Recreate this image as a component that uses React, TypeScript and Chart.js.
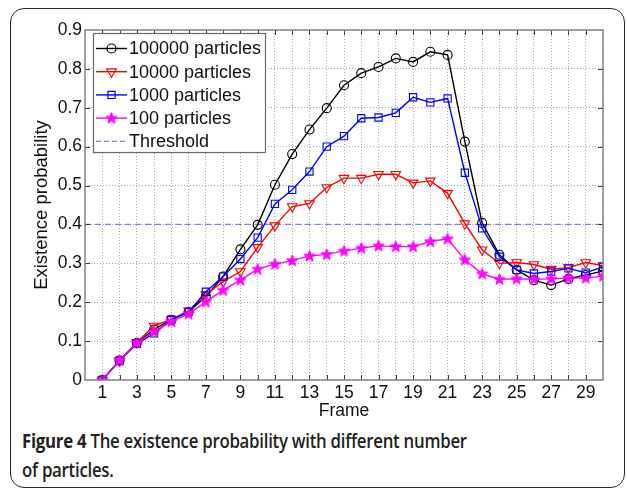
import React, { useEffect, useRef } from 'react';
import { Chart, registerables } from 'chart.js';

Chart.register(...registerables);

const frames = [1, 2, 3, 4, 5, 6, 7, 8, 9, 10, 11, 12, 13, 14, 15, 16, 17, 18, 19, 20, 21, 22, 23, 24, 25, 26, 27, 28, 29, 30];
const p100000 = [0, 0.05, 0.095, 0.13, 0.155, 0.175, 0.215, 0.266, 0.336, 0.399, 0.502, 0.581, 0.644, 0.699, 0.758, 0.789, 0.805, 0.827, 0.818, 0.844, 0.836, 0.613, 0.404, 0.322, 0.283, 0.257, 0.244, 0.26, 0.27, 0.28];
const p10000 = [0, 0.05, 0.097, 0.139, 0.156, 0.178, 0.22, 0.253, 0.279, 0.341, 0.397, 0.446, 0.454, 0.495, 0.519, 0.519, 0.529, 0.529, 0.507, 0.512, 0.48, 0.402, 0.335, 0.3, 0.302, 0.297, 0.285, 0.289, 0.302, 0.294];
const p1000 = [0, 0.05, 0.093, 0.12, 0.155, 0.175, 0.227, 0.266, 0.311, 0.366, 0.453, 0.489, 0.536, 0.6, 0.627, 0.673, 0.675, 0.687, 0.727, 0.714, 0.724, 0.533, 0.39, 0.317, 0.283, 0.274, 0.279, 0.287, 0.276, 0.291];
const p100 = [0, 0.05, 0.095, 0.124, 0.15, 0.17, 0.201, 0.231, 0.257, 0.285, 0.298, 0.307, 0.319, 0.323, 0.332, 0.339, 0.345, 0.343, 0.343, 0.356, 0.363, 0.309, 0.273, 0.259, 0.26, 0.259, 0.26, 0.262, 0.262, 0.267];
const thresholdValue = 0.4;
const xRange = [0, 30];
const yRange = [0, 0.9];
const xTickLabels = [1, 3, 5, 7, 9, 11, 13, 15, 17, 19, 21, 23, 25, 27, 29];
const seriesNames = ['100000 particles', '10000 particles', '1000 particles', '100 particles', 'Threshold'];
const xTitle = 'Frame';
const yTitle = 'Existence probability';

const FONT = '"Liberation Sans", Arial, sans-serif';
const colors = ['#000000', '#ff0000', '#0000ff', '#ff00ff', '#8080e6'];

function makeStar(color: string) {
  const c = document.createElement('canvas');
  c.width = 13;
  c.height = 13;
  const ctx = c.getContext('2d')!;
  const cx = 6.5, cy = 6.8, ro = 6, ri = 2.4;
  ctx.beginPath();
  for (let i = 0; i < 10; i++) {
    const r = i % 2 === 0 ? ro : ri;
    const a = -Math.PI / 2 + (i * Math.PI) / 5;
    const x = cx + r * Math.cos(a);
    const y = cy + r * Math.sin(a);
    if (i === 0) ctx.moveTo(x, y); else ctx.lineTo(x, y);
  }
  ctx.closePath();
  ctx.fillStyle = color;
  ctx.fill();
  ctx.strokeStyle = color;
  ctx.lineWidth = 1;
  ctx.stroke();
  return c;
}

function drawMarker(ctx: CanvasRenderingContext2D, kind: string, x: number, y: number, color: string, star: HTMLCanvasElement) {
  ctx.save();
  ctx.strokeStyle = color;
  ctx.lineWidth = 1.2;
  ctx.beginPath();
  if (kind === 'circle') {
    ctx.arc(x, y, 4.5, 0, Math.PI * 2);
    ctx.stroke();
  } else if (kind === 'tri') {
    const r = 5.5;
    ctx.moveTo(x, y + r);
    ctx.lineTo(x - r * Math.sin(Math.PI / 3), y - r / 2);
    ctx.lineTo(x + r * Math.sin(Math.PI / 3), y - r / 2);
    ctx.closePath();
    ctx.stroke();
  } else if (kind === 'rect') {
    const s = 3.6;
    ctx.rect(x - s, y - s, 2 * s, 2 * s);
    ctx.stroke();
  } else if (kind === 'star') {
    ctx.drawImage(star, x - star.width / 2, y - star.height / 2);
  }
  ctx.restore();
}

export default function App() {
  const ref = useRef<HTMLCanvasElement | null>(null);

  useEffect(() => {
    if (!ref.current) return;
    const star = makeStar(colors[3]);
    const mk = (vals: number[]) => frames.map((f, i) => ({ x: f, y: vals[i] }));

    const framePlugin = {
      id: 'framePlugin',
      afterDraw(chart: any) {
        const { ctx, chartArea } = chart;
        const xs = chart.scales.x;
        const ys = chart.scales.y;
        const { left, right, top, bottom } = chartArea;
        ctx.save();
        ctx.strokeStyle = '#3a3a3a';
        ctx.lineWidth = 1;
        ctx.beginPath();
        for (let v = xRange[0] + 1; v < xRange[1]; v++) {
          const px = Math.round(xs.getPixelForValue(v)) + 0.5;
          ctx.moveTo(px, bottom);
          ctx.lineTo(px, bottom - 5);
          ctx.moveTo(px, top);
          ctx.lineTo(px, top + 5);
        }
        for (let k = 1; k < 9; k++) {
          const py = Math.round(ys.getPixelForValue(k / 10)) + 0.5;
          ctx.moveTo(left, py);
          ctx.lineTo(left + 5, py);
          ctx.moveTo(right, py);
          ctx.lineTo(right - 5, py);
        }
        ctx.stroke();
        ctx.strokeStyle = '#858585';
        ctx.lineWidth = 1.5;
        ctx.strokeRect(Math.round(left), Math.round(top), Math.round(right - left), Math.round(bottom - top));

        const lx = 93, ly = 33, lw = 172, lh = 119;
        ctx.fillStyle = '#ffffff';
        ctx.fillRect(lx, ly, lw, lh);
        ctx.strokeStyle = '#6a6a6a';
        ctx.lineWidth = 1.2;
        ctx.strokeRect(lx + 0.5, ly + 0.5, lw, lh);
        const kinds = ['circle', 'tri', 'rect', 'star', 'none'];
        ctx.font = `18px ${FONT}`;
        ctx.textBaseline = 'middle';
        ctx.textAlign = 'left';
        for (let i = 0; i < seriesNames.length; i++) {
          const ry = 48.5 + i * 23.2;
          ctx.save();
          ctx.strokeStyle = colors[i];
          ctx.lineWidth = i === 4 ? 1.2 : 1.4;
          if (i === 4) ctx.setLineDash([5, 3]);
          ctx.beginPath();
          ctx.moveTo(96, ry);
          ctx.lineTo(127, ry);
          ctx.stroke();
          ctx.restore();
          if (kinds[i] !== 'none') drawMarker(ctx, kinds[i], 111.5, ry, colors[i], star);
          ctx.fillStyle = '#111';
          ctx.fillText(seriesNames[i], 129, ry + 1);
        }
        ctx.restore();
      },
    };

    const chart = new Chart(ref.current, {
      type: 'line',
      data: {
        datasets: [
          {
            label: seriesNames[4],
            data: [{ x: xRange[0], y: thresholdValue }, { x: xRange[1], y: thresholdValue }],
            borderColor: colors[4],
            borderWidth: 1.3,
            borderDash: [6, 4],
            pointRadius: 0,
            order: 5,
          },
          {
            label: seriesNames[0],
            data: mk(p100000),
            borderColor: colors[0],
            borderWidth: 1.4,
            pointStyle: 'circle',
            pointRadius: 4.5,
            pointBorderWidth: 1.1,
            pointBorderColor: colors[0],
            pointBackgroundColor: 'rgba(0,0,0,0)',
            order: 4,
          },
          {
            label: seriesNames[1],
            data: mk(p10000),
            borderColor: colors[1],
            borderWidth: 1.4,
            pointStyle: 'triangle',
            pointRotation: 180,
            pointRadius: 5.5,
            pointBorderWidth: 1.1,
            pointBorderColor: colors[1],
            pointBackgroundColor: 'rgba(0,0,0,0)',
            order: 3,
          },
          {
            label: seriesNames[2],
            data: mk(p1000),
            borderColor: colors[2],
            borderWidth: 1.4,
            pointStyle: 'rect',
            pointRadius: 5.1,
            pointBorderWidth: 1.1,
            pointBorderColor: colors[2],
            pointBackgroundColor: 'rgba(0,0,0,0)',
            order: 2,
          },
          {
            label: seriesNames[3],
            data: mk(p100),
            borderColor: colors[3],
            borderWidth: 1.4,
            pointStyle: star as any,
            pointRadius: 5,
            order: 1,
          },
        ],
      },
      options: {
        animation: false,
        responsive: false,
        devicePixelRatio: 1,
        layout: { padding: { left: 0, top: 30, right: 24, bottom: 0 } },
        plugins: { legend: { display: false }, tooltip: { enabled: false } },
        elements: { line: { tension: 0 } },
        scales: {
          x: {
            type: 'linear',
            min: xRange[0],
            max: xRange[1],
            afterFit: (s: any) => { s.height = 45; },
            afterBuildTicks: (s: any) => {
              s.ticks = frames.map((v) => ({ value: v }));
            },
            ticks: {
              autoSkip: false,
              maxRotation: 0,
              padding: 3,
              color: '#111',
              font: { family: FONT, size: 17.5 },
              callback: (v: any) => (xTickLabels.includes(Number(v)) ? String(v) : ''),
            },
            grid: { color: '#a8a8a8', lineWidth: 1, drawTicks: false },
            border: { display: false, dash: [1, 2] },
            title: {
              display: true,
              text: xTitle,
              color: '#111',
              font: { family: FONT, size: 17.5 },
              padding: { top: 0, bottom: 3 },
            },
          },
          y: {
            type: 'linear',
            min: yRange[0],
            max: yRange[1],
            afterFit: (s: any) => { s.width = 85; },
            ticks: {
              stepSize: 0.1,
              padding: 3,
              color: '#111',
              font: { family: FONT, size: 17.5 },
              callback: (v: any) => String(Math.round(Number(v) * 10) / 10),
            },
            grid: { color: '#a8a8a8', lineWidth: 1, drawTicks: false },
            border: { display: false, dash: [1, 2] },
            title: {
              display: true,
              text: yTitle,
              color: '#111',
              font: { family: FONT, size: 18.5 },
              padding: { top: 31, bottom: 0 },
            },
          },
        },
      },
      plugins: [framePlugin],
    } as any);
    return () => chart.destroy();
  }, []);

  return (
    <div style={{ position: 'fixed', left: 0, top: 0, width: 627, height: 490, overflow: 'hidden', background: '#fff' }}>
      <div
        style={{
          position: 'absolute',
          left: 10,
          top: 8,
          width: 615,
          height: 480,
          border: '1.5px solid #2a2a2a',
          borderRadius: 14,
          boxSizing: 'border-box',
        }}
      />
      <canvas ref={ref} width={627} height={425} style={{ position: 'absolute', left: 0, top: 0, width: 627, height: 425 }} />
      <div
        style={{
          position: 'absolute',
          left: 22,
          top: 427,
          fontFamily: '"Open Sans", sans-serif',
          fontSize: 19,
          lineHeight: '29px',
          fontWeight: 600,
          color: '#222',
          letterSpacing: -0.3,
          whiteSpace: 'nowrap',
          transform: 'scaleX(0.885)',
          transformOrigin: 'left top',
        }}
      >
        <span style={{ fontWeight: 700 }}>Figure 4</span> The existence probability with different number
        <br />
        of particles.
      </div>
    </div>
  );
}
